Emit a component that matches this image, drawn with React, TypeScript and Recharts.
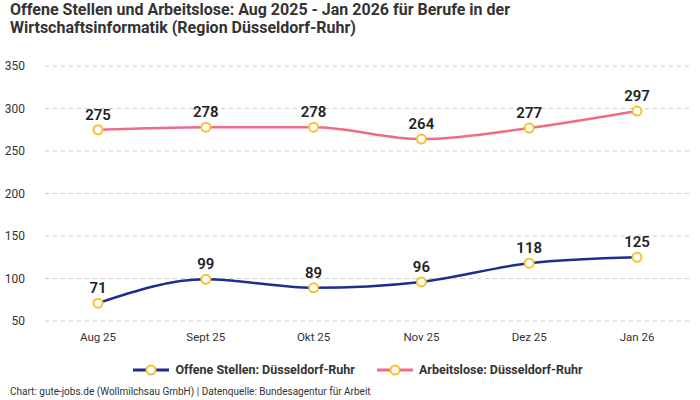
import React from "react";
import { LineChart, Line, XAxis, YAxis, CartesianGrid, LabelList } from "recharts";

const months = ["Aug 25", "Sept 25", "Okt 25", "Nov 25", "Dez 25", "Jan 26"];
const offeneStellen = [71, 99, 89, 96, 118, 125];
const arbeitslose = [275, 278, 278, 264, 277, 297];
const yTicks = [50, 100, 150, 200, 250, 300, 350];

const series = [
  { key: "offen", name: "Offene Stellen: Düsseldorf-Ruhr", color: "#1e2d8f" },
  { key: "arbeitslos", name: "Arbeitslose: Düsseldorf-Ruhr", color: "#f26b86" },
];

const data = months.map((m, i) => ({
  month: m,
  offen: offeneStellen[i],
  arbeitslos: arbeitslose[i],
}));

const FONT = "Roboto, 'Noto Sans', sans-serif";
const DOT = "#f8c22c";

function LegendItem({ color, name }: { color: string; name: string }) {
  return (
    <div style={{ display: "flex", alignItems: "center", gap: 6 }}>
      <svg width={36} height={12}>
        <line x1={0} y1={6} x2={36} y2={6} stroke={color} strokeWidth={3} />
        <circle cx={18} cy={6} r={4.5} fill="#fff" stroke={DOT} strokeWidth={2} />
      </svg>
      <span>{name}</span>
    </div>
  );
}

export default function App() {
  return (
    <div
      style={{
        position: "absolute",
        left: 0,
        top: 0,
        width: 700,
        height: 400,
        background: "#fff",
        fontFamily: FONT,
        color: "#333",
      }}
    >
      <div
        style={{
          position: "absolute",
          left: 10,
          top: 1,
          fontSize: 16,
          fontWeight: 700,
          lineHeight: "18px",
          color: "#333",
        }}
      >
        Offene Stellen und Arbeitslose: Aug 2025 - Jan 2026 für Berufe in der
        <br />
        Wirtschaftsinformatik (Region Düsseldorf-Ruhr)
      </div>

      <LineChart
        width={700}
        height={400}
        data={data}
        margin={{ top: 66, right: 10, left: 0, bottom: 49 }}
      >
        <CartesianGrid vertical={false} stroke="#ccc" strokeDasharray="4 4" />
        <XAxis
          dataKey="month"
          axisLine={false}
          tickLine={false}
          height={30}
          padding={{ left: 53, right: 53 }}
          tick={{ fontSize: 11.5, fill: "#333" }}
          tickMargin={6}
        />
        <YAxis
          domain={[50, 350]}
          ticks={yTicks}
          axisLine={false}
          tickLine={false}
          width={45}
          tick={{ fontSize: 12, fill: "#333" }}
          tickMargin={14}
          interval={0}
        />
        {series.map((s) => (
          <Line
            key={s.key}
            type="monotone"
            dataKey={s.key}
            name={s.name}
            stroke={s.color}
            strokeWidth={2.5}
            dot={{ r: 4.5, fill: "#fff", stroke: DOT, strokeWidth: 2 }}
            isAnimationActive={false}
          >
            <LabelList
              dataKey={s.key}
              position="top"
              offset={10}
              style={{ fontSize: 15, fontWeight: 600, fill: "#222" }}
            />
          </Line>
        ))}
      </LineChart>

      <div
        style={{
          position: "absolute",
          left: 0,
          width: 700,
          top: 362,
          display: "flex",
          justifyContent: "center",
          gap: 22,
          fontSize: 12.5,
          fontWeight: 700,
          color: "#333",
          paddingLeft: 8,
        }}
      >
        {series.map((s) => (
          <LegendItem key={s.key} color={s.color} name={s.name} />
        ))}
      </div>

      <div
        style={{
          position: "absolute",
          left: 10,
          top: 386,
          fontSize: 10,
          color: "#333",
        }}
      >
        Chart: gute-jobs.de (Wollmilchsau GmbH) | Datenquelle: Bundesagentur für Arbeit
      </div>
    </div>
  );
}
